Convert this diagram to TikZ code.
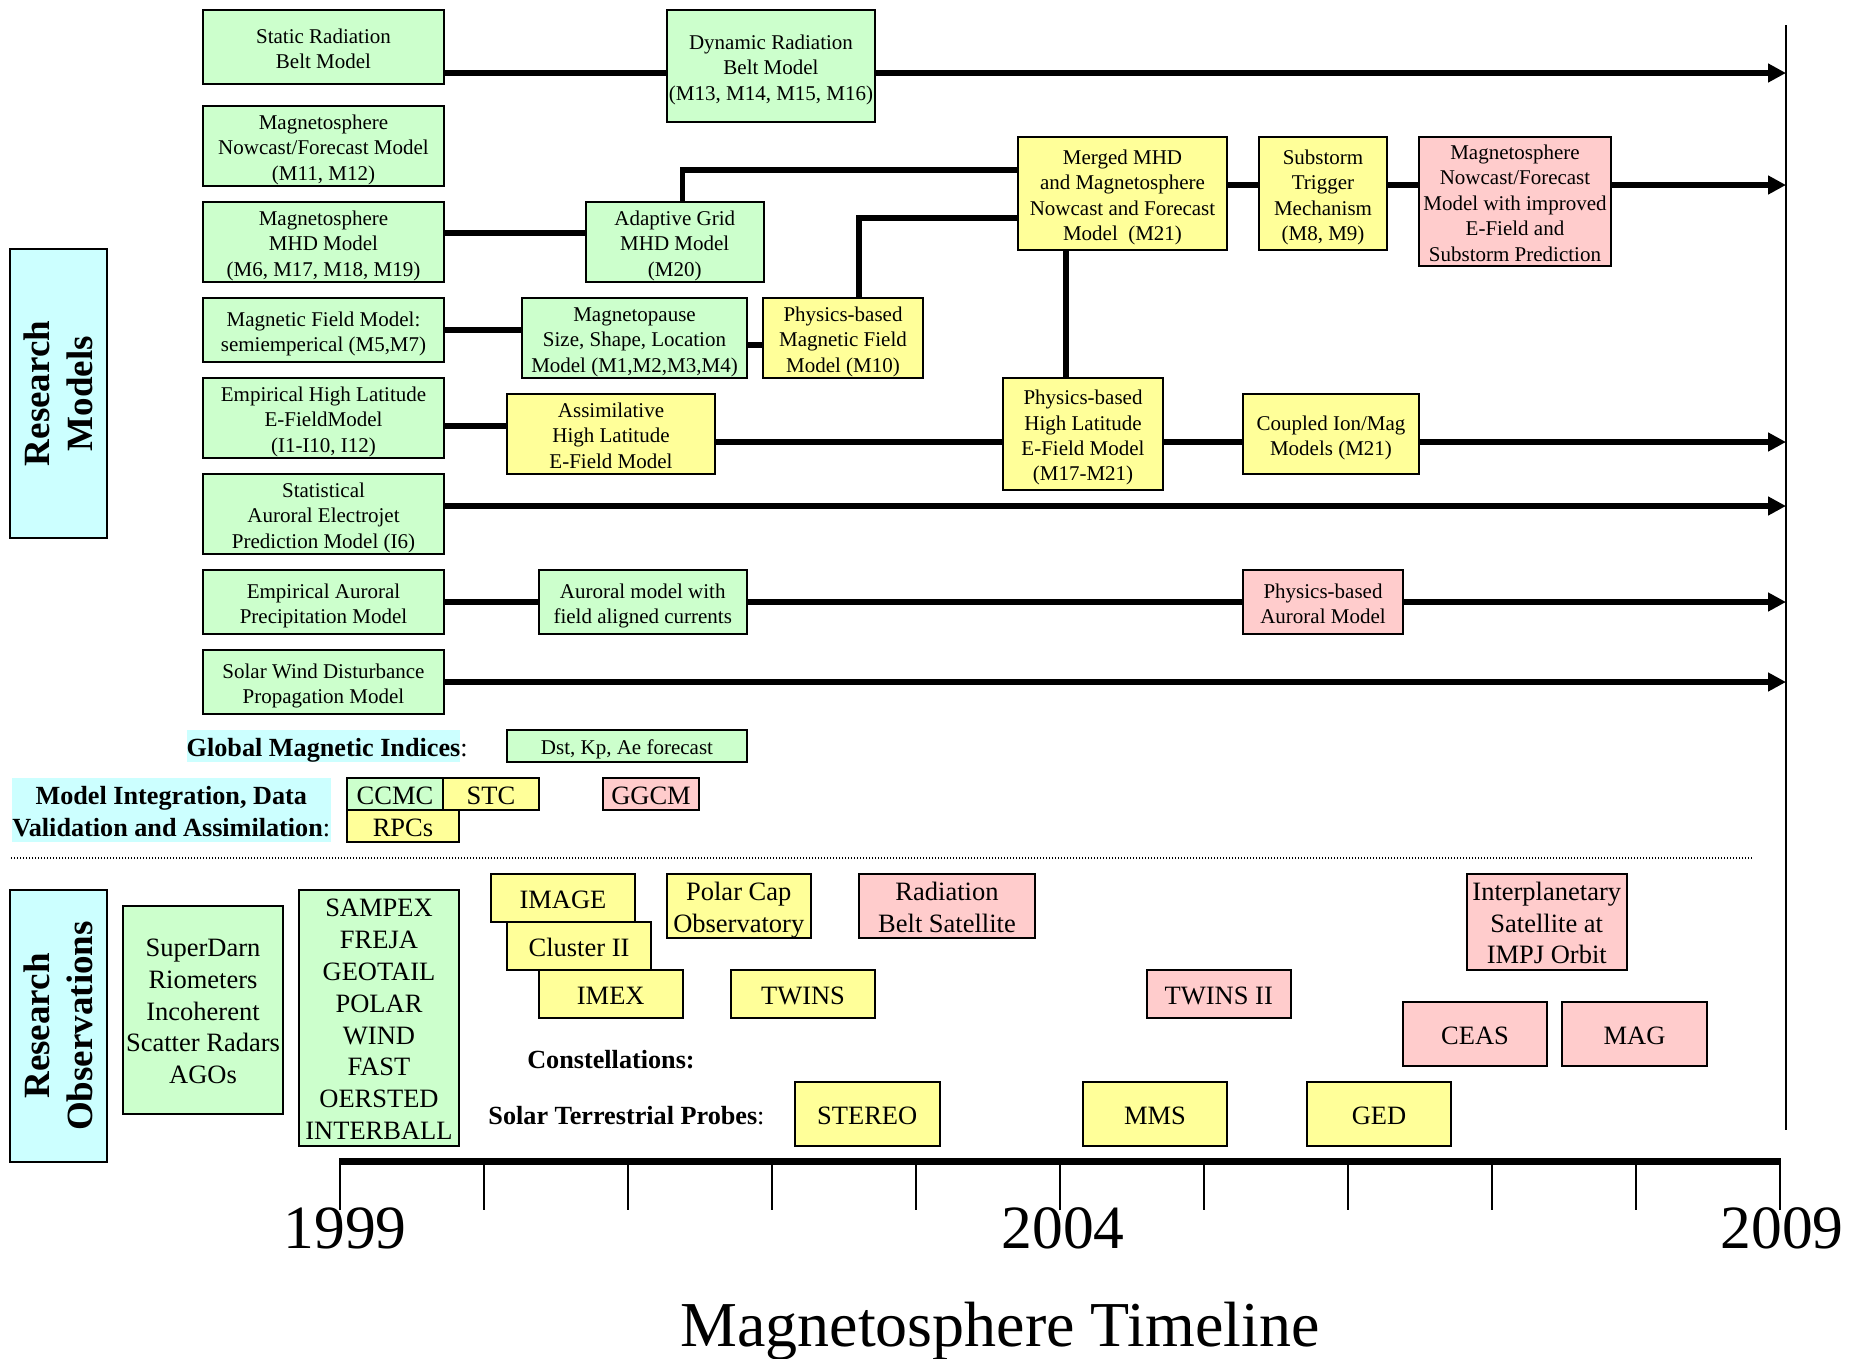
\documentclass[tikz,border=0pt]{standalone}
\usepackage{fontspec}
\setmainfont{Liberation Serif}
\usetikzlibrary{arrows.meta}

\definecolor{mgreen}{HTML}{CCFFCC}
\definecolor{myellow}{HTML}{FFFF99}
\definecolor{mpink}{HTML}{FFCCCC}
\definecolor{mcyan}{HTML}{CCFFFF}

\newcommand\boxfont{\fontsize{21}{25.4}\selectfont}
\newcommand\obsfont{\fontsize{26.5}{31.8}\selectfont}
\newcommand\labfont{\fontsize{26.2}{31.8}\selectfont}
\newcommand\sidefont{\fontsize{37}{43}\selectfont\bfseries}
\newcommand\yearfont{\fontsize{61.5}{70}\selectfont}
\newcommand\titlefont{\fontsize{64}{74}\selectfont}

% a centred block of lines with a fixed line pitch (one baselineskip),
% drawn slightly below the middle of its box
\newcommand\lines[1]{\raisebox{-3.8pt}[\height][\depth]{\begin{tabular}{@{}c@{}}#1\end{tabular}}}

\tikzset{
  base/.style={draw=black, line width=2pt, inner sep=0pt, text=black},
  gbox/.style={base, fill=mgreen, font=\boxfont},
  ybox/.style={base, fill=myellow, font=\boxfont},
  pbox/.style={base, fill=mpink, font=\boxfont},
  gobs/.style={base, fill=mgreen, font=\obsfont},
  yobs/.style={base, fill=myellow, font=\obsfont},
  pobs/.style={base, fill=mpink, font=\obsfont},
  side/.style={base, fill=mcyan, font=\sidefont, align=center, rotate=90},
  sz/.style 2 args={minimum width=#1pt, minimum height=#2pt},
  link/.style={line width=5.3pt},
  flow/.style={link, -{Triangle[length=18pt, width=18pt]}},
  label/.style={inner sep=0pt, font=\labfont\bfseries},
}

\begin{document}
\begin{tikzpicture}[x=1pt, y=-1pt]
\useasboundingbox (0,0) rectangle (1852,1358);

% ---------- research models ----------
\node[side, sz={289}{97}] (rmodels) at (58.5,393.5) {Research\\Models};

\node[gbox, sz={241}{74}] (static) at (323.5,47) {\lines{Static Radiation\\Belt Model}};
\node[gbox, sz={208}{112}] (dyn) at (771,66) {\lines{Dynamic Radiation\\Belt Model\\(M13, M14, M15, M16)}};
\node[gbox, sz={241}{80}] (nowcast) at (323.5,146) {\lines{Magnetosphere\\Nowcast/Forecast Model\\(M11, M12)}};
\node[gbox, sz={241}{80}] (mhd) at (323.5,242) {\lines{Magnetosphere\\MHD Model\\(M6, M17, M18, M19)}};
\node[gbox, sz={177.5}{80}] (adaptive) at (674.75,242) {\lines{Adaptive Grid\\MHD Model\\(M20)}};
\node[ybox, sz={209}{113}] (merged) at (1122.5,193.5) {\lines{Merged MHD\\and Magnetosphere\\Nowcast and Forecast\\Model\ \ (M21)}};
\node[ybox, sz={128}{113}] (substorm) at (1323,193.5) {\lines{Substorm\\Trigger\\Mechanism\\(M8, M9)}};
\node[pbox, sz={192}{129}] (magnow) at (1515,201.5) {\lines{Magnetosphere\\Nowcast/Forecast\\Model with improved\\E-Field and\\Substorm Prediction}};
\node[gbox, sz={241}{64}] (magfield) at (323.5,330) {\lines{Magnetic Field Model:\\semiemperical (M5,M7)}};
\node[gbox, sz={225}{80}] (magpause) at (634.5,338) {\lines{Magnetopause\\Size, Shape, Location\\Model (M1,M2,M3,M4)}};
\node[ybox, sz={160}{80}] (physmag) at (843,338) {\lines{Physics-based\\Magnetic Field\\Model (M10)}};
\node[gbox, sz={241}{80}] (emphl) at (323.5,418) {\lines{Empirical High Latitude\\E-FieldModel\\(I1-I10, I12)}};
\node[ybox, sz={208}{80}] (assim) at (611,434) {\lines{Assimilative\\High Latitude\\E-Field Model}};
\node[ybox, sz={160}{112}] (physhl) at (1083,434) {\lines{Physics-based\\High Latitude\\E-Field Model\\(M17-M21)}};
\node[ybox, sz={176}{80}] (coupled) at (1331,434) {\lines{Coupled Ion/Mag\\Models (M21)}};
\node[gbox, sz={241}{80}] (stat) at (323.5,514) {\lines{Statistical\\Auroral Electrojet\\Prediction Model (I6)}};
\node[gbox, sz={241}{64}] (empaur) at (323.5,602) {\lines{Empirical Auroral\\Precipitation Model}};
\node[gbox, sz={208.5}{64}] (aurfac) at (642.75,602) {\lines{Auroral model with\\field aligned currents}};
\node[pbox, sz={160}{64}] (physaur) at (1323,602) {\lines{Physics-based\\Auroral Model}};
\node[gbox, sz={241}{64}] (solar) at (323.5,682) {\lines{Solar Wind Disturbance\\Propagation Model}};

% end-of-period marker and lane heights
\coordinate (endtop) at (1786,25);
\coordinate (endbot) at (1786,1130);
\draw[line width=2pt] (endtop) -- (endbot);

\coordinate (laneA) at (0,73);
\coordinate (laneB) at (0,185);
\coordinate (laneC) at (0,233);
\coordinate (laneD) at (0,330);
\coordinate (laneE) at (0,345);
\coordinate (laneF) at (0,426);
\coordinate (laneG) at (0,442);
\coordinate (laneH) at (0,506);
\coordinate (laneI) at (0,602);
\coordinate (laneJ) at (0,682);
\coordinate (upA) at (682.5,170);
\coordinate (upB) at (859,218);
\coordinate (downA) at (1066,0);

\draw[link] (static.east |- laneA) -- (dyn.west |- laneA);
\draw[flow] (dyn.east |- laneA) -- (endtop |- laneA);

\draw[link] (mhd.east |- laneC) -- (adaptive.west |- laneC);
\draw[link] (adaptive.north -| upA) |- (merged.west |- upA);
\draw[link] (physmag.north -| upB) |- (merged.west |- upB);
\draw[link] (merged.east |- laneB) -- (substorm.west |- laneB);
\draw[link] (substorm.east |- laneB) -- (magnow.west |- laneB);
\draw[flow] (magnow.east |- laneB) -- (endtop |- laneB);
\draw[link] (merged.south -| downA) -- (physhl.north -| downA);

\draw[link] (magfield.east |- laneD) -- (magpause.west |- laneD);
\draw[link] (magpause.east |- laneE) -- (physmag.west |- laneE);

\draw[link] (emphl.east |- laneF) -- (assim.west |- laneF);
\draw[link] (assim.east |- laneG) -- (physhl.west |- laneG);
\draw[link] (physhl.east |- laneG) -- (coupled.west |- laneG);
\draw[flow] (coupled.east |- laneG) -- (endtop |- laneG);

\draw[flow] (stat.east |- laneH) -- (endtop |- laneH);

\draw[link] (empaur.east |- laneI) -- (aurfac.west |- laneI);
\draw[link] (aurfac.east |- laneI) -- (physaur.west |- laneI);
\draw[flow] (physaur.east |- laneI) -- (endtop |- laneI);

\draw[flow] (solar.east |- laneJ) -- (endtop |- laneJ);

% ---------- indices and integration ----------
\node[label, fill=mcyan, sz={271}{32}] (gmi) at (323.5,746) {\lines{Global Magnetic Indices\rlap{\mdseries:}}};
\node[gbox, sz={240}{32}] (dst) at (627,746) {\lines{Dst, Kp, Ae forecast}};

\node[label, fill=mcyan, sz={319.5}{64}] (integ) at (171.25,810)
  {\lines{Model Integration, Data\\Validation and Assimilation{\mdseries:}}};
\node[gobs, sz={96}{32}] (ccmc) at (395,794) {\lines{CCMC}};
\node[yobs, sz={96}{32}] (stc) at (491,794) {\lines{STC}};
\node[yobs, sz={112}{32}] (rpcs) at (403,826) {\lines{RPCs}};
\node[pobs, sz={96}{32}] (ggcm) at (651,794) {\lines{GGCM}};

\draw[line width=1.3pt, dash pattern=on 1.3pt off 1.7pt] (11,858) -- (1753,858);

% ---------- research observations ----------
\node[side, sz={272}{97}] (robs) at (58.5,1026) {Research\\Observations};
\node[gobs, sz={160}{208}] (superdarn) at (203,1010) {\lines{SuperDarn\\Riometers\\Incoherent\\Scatter Radars\\AGOs}};
\node[gobs, sz={160}{256}] (sampex) at (379,1018) {\lines{SAMPEX\\FREJA\\GEOTAIL\\POLAR\\WIND\\FAST\\OERSTED\\INTERBALL}};
\node[yobs, sz={144}{48}] (image) at (563,898) {\lines{IMAGE}};
\node[yobs, sz={144}{48}] (cluster) at (579,946) {\lines{Cluster II}};
\node[yobs, sz={144.5}{48}] (imex) at (610.75,994) {\lines{IMEX}};
\node[yobs, sz={144.5}{64}] (polarcap) at (738.75,906) {\lines{Polar Cap\\Observatory}};
\node[yobs, sz={144}{48}] (twins) at (803,994) {\lines{TWINS}};
\node[pobs, sz={176}{64}] (radbelt) at (947,906) {\lines{Radiation\\Belt Satellite}};
\node[pobs, sz={144.5}{48}] (twins2) at (1218.75,994) {\lines{TWINS II}};
\node[pobs, sz={160.5}{96}] (interp) at (1546.75,922) {\lines{Interplanetary\\Satellite at\\IMPJ Orbit}};
\node[pobs, sz={144}{64}] (ceas) at (1475,1034) {\lines{CEAS}};
\node[pobs, sz={145}{64}] (mag) at (1634.5,1034) {\lines{MAG}};

\node[label] (constel) at (611,1058) {\lines{Constellations:}};
\node[label] (stp) at (626.5,1114) {\lines{Solar Terrestrial Probes{\mdseries:}}};
\node[yobs, sz={144.5}{64}] (stereo) at (867.25,1114) {\lines{STEREO}};
\node[yobs, sz={144}{64}] (mms) at (1155,1114) {\lines{MMS}};
\node[yobs, sz={144}{64}] (ged) at (1379,1114) {\lines{GED}};

% ---------- time axis ----------
\node[font=\yearfont, anchor=base, inner sep=0pt] (y1999) at (345,1248) {1999};
\node[font=\yearfont, anchor=base, inner sep=0pt] (y2004) at (1063,1248) {2004};
\node[font=\yearfont, anchor=base, inner sep=0pt] (y2009) at (1782,1248) {2009};
\foreach \k in {0,...,10}
  \draw[line width=1.5pt] (340+144*\k,1158) -- (340+144*\k,1210);
\draw[line width=7pt] (340,1161.5) -- (1780,1161.5);

\node[font=\titlefont, anchor=base, inner sep=0pt] (title) at (1000,1346) {Magnetosphere Timeline};
\end{tikzpicture}
\end{document}
